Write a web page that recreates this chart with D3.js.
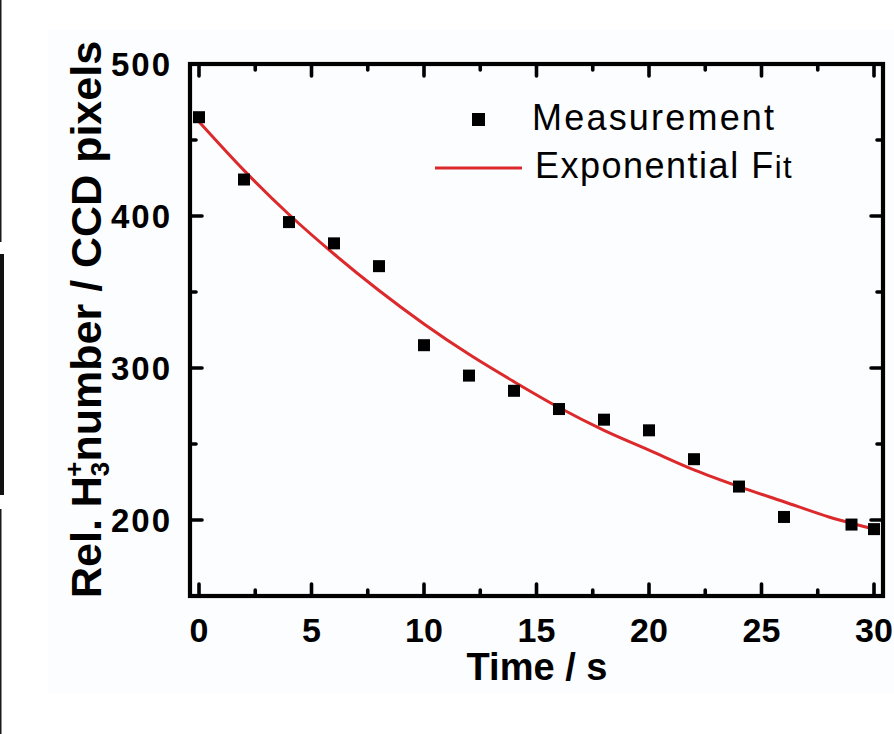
<!DOCTYPE html>
<html>
<head>
<meta charset="utf-8">
<script src="https://cdn.jsdelivr.net/npm/d3@7/dist/d3.min.js"></script>
<style>
  html, body { margin: 0; padding: 0; background: #ffffff; }
  svg { display: block; }
  text { font-family: "Liberation Sans", Arial, Helvetica, sans-serif; }
</style>
</head>
<body>
<svg id="chart" width="894" height="734"></svg>
<script>
// Measured H3+ signal versus storage time
const timeS = [0, 2, 4, 6, 8, 10, 12, 14, 16, 18, 20, 22, 24, 26, 29, 30];
const measurement = [465, 424, 396, 382, 367, 315, 295, 285, 273, 266, 259, 240, 222, 202, 197, 194];

// Exponential fit, sampled along the time axis
const fitTime = [0, 2, 4, 6, 8, 10, 12, 14, 16, 18, 20, 22, 24, 26, 28, 30];
const fitValue = [462, 430, 401, 375, 351, 329, 309, 291, 274, 259, 246, 233, 222, 212, 202, 194];

// Axis ticks
const xMajorTicks = [0, 5, 10, 15, 20, 25, 30];
const xMinorTicks = [2.5, 7.5, 12.5, 17.5, 22.5, 27.5];
const yMajorTicks = [200, 300, 400, 500];
const yMinorTicks = [150, 250, 350, 450];

const legendLabels = ["Measurement", "Exponential Fit"];

const fitColor = "#dc2a2c";
const svg = d3.select("#chart");

// Scanned-page edge marks and the light panel behind the figure
svg.append("rect").attr("x", 48).attr("y", 30).attr("width", 846).attr("height", 663).attr("fill", "#fbfdfe");
svg.append("rect").attr("x", 0).attr("y", 0).attr("width", 1.5).attr("height", 242).attr("fill", "#1a1a1a");
svg.append("rect").attr("x", 0).attr("y", 254).attr("width", 4).attr("height", 241).attr("fill", "#111");
svg.append("rect").attr("x", 0).attr("y", 509).attr("width", 1.5).attr("height", 225).attr("fill", "#1a1a1a");

const x = d3.scaleLinear().domain([-0.4, 30.4]).range([190, 883]);
const y = d3.scaleLinear().domain([150, 500]).range([596, 64]);

const plot = svg.append("g");
const [x0, x1] = x.range();
const [y0, y1] = y.range();

// Inward ticks on all four sides
function ticks(values, len, orient) {
  values.forEach(v => {
    if (orient === "bottom") plot.append("line").attr("x1", x(v)).attr("x2", x(v)).attr("y1", y0).attr("y2", y0 - len);
    if (orient === "top") plot.append("line").attr("x1", x(v)).attr("x2", x(v)).attr("y1", y1).attr("y2", y1 + len);
    if (orient === "left") plot.append("line").attr("x1", x0).attr("x2", x0 + len).attr("y1", y(v)).attr("y2", y(v));
    if (orient === "right") plot.append("line").attr("x1", x1).attr("x2", x1 - len).attr("y1", y(v)).attr("y2", y(v));
  });
}
["bottom", "top"].forEach(o => { ticks(xMajorTicks, 12, o); ticks(xMinorTicks, 6, o); });
["left", "right"].forEach(o => { ticks(yMajorTicks, 12, o); ticks(yMinorTicks, 6, o); });
plot.selectAll("line").attr("stroke", "#000").attr("stroke-width", 3.6).attr("stroke-linecap", "round");

// Frame
plot.append("rect").attr("x", x0).attr("y", y1).attr("width", x1 - x0).attr("height", y0 - y1)
  .attr("fill", "none").attr("stroke", "#000").attr("stroke-width", 4.2);

// Tick labels
svg.append("g").selectAll("text").data(xMajorTicks).join("text")
  .attr("x", d => x(d)).attr("y", 642).attr("text-anchor", "middle")
  .attr("font-size", 34).attr("font-weight", "bold").text(d => d);
svg.append("g").selectAll("text").data(yMajorTicks).join("text")
  .attr("x", 172).attr("y", d => y(d) + 12).attr("text-anchor", "end")
  .attr("font-size", 33).attr("font-weight", "bold").attr("letter-spacing", 2).text(d => d);

// Axis titles
svg.append("text").attr("x", 537).attr("y", 680).attr("text-anchor", "middle")
  .attr("font-size", 38).attr("font-weight", "bold").text("Time / s");

const yTitle = svg.append("text")
  .attr("transform", "translate(101,598) rotate(-90)")
  .attr("font-size", 43).attr("font-weight", "bold");
yTitle.append("tspan").text("Rel. H");
yTitle.append("tspan").attr("font-size", 26).attr("dy", 8).text("3");
yTitle.append("tspan").attr("font-size", 26).attr("dx", -15).attr("dy", -26).text("+");
yTitle.append("tspan").attr("dy", 18).text("number / CCD pixels");

// Fit curve
const line = d3.line().x((d, i) => x(fitTime[i])).y(d => y(d)).curve(d3.curveMonotoneX);
svg.append("path").datum(fitValue).attr("d", line)
  .attr("fill", "none").attr("stroke", fitColor).attr("stroke-width", 3);

// Measurement points
const ms = 12;
svg.append("g").selectAll("rect").data(measurement).join("rect")
  .attr("x", (d, i) => x(timeS[i]) - ms / 2).attr("y", d => y(d) - ms / 2)
  .attr("width", ms).attr("height", ms).attr("fill", "#000");

// Legend
const lg = svg.append("g");
lg.append("rect").attr("x", 472).attr("y", 113).attr("width", ms + 1).attr("height", ms + 1).attr("fill", "#000");
lg.append("text").attr("x", 532).attr("y", 130).attr("font-size", 36).attr("letter-spacing", 2.2).text(legendLabels[0]);
lg.append("line").attr("x1", 435).attr("x2", 522).attr("y1", 168).attr("y2", 168)
  .attr("stroke", fitColor).attr("stroke-width", 3);
const fitLabel = lg.append("text").attr("x", 535).attr("y", 178).attr("font-size", 36).attr("letter-spacing", 1.5);
fitLabel.append("tspan").text(legendLabels[1].slice(0, -2));
fitLabel.append("tspan").attr("font-size", 31).text(legendLabels[1].slice(-2));
</script>
</body>
</html>
